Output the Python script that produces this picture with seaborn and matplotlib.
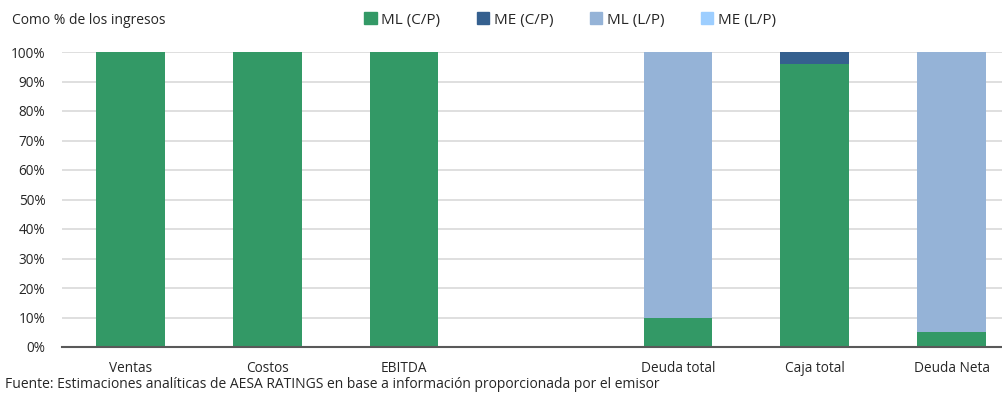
import matplotlib
matplotlib.use("Agg")
import matplotlib.pyplot as plt
from matplotlib.patches import Patch
from matplotlib.ticker import PercentFormatter
import numpy as np
import pandas as pd
import seaborn as sns

# categories (the blank one is the gap between P&L items and debt items)
categories = ["Ventas", "Costos", "EBITDA", " ", "Deuda total", "Caja total", "Deuda Neta"]
series_names = ["ML (C/P)", "ME (C/P)", "ML (L/P)", "ME (L/P)"]

ml_cp = [100, 100, 100, 0, 10, 96, 5.2]
me_cp = [0, 0, 0, 0, 0, 4, 0]
ml_lp = [0, 0, 0, 0, 90, 0, 94.8]
me_lp = [0, 0, 0, 0, 0, 0, 0]

colors = ["#339966", "#35608F", "#95B3D7", "#9DCEFF"]

sns.set_style("white")
plt.rcParams["font.family"] = ["Open Sans", "DejaVu Sans"]

fig = plt.figure(figsize=(10.03, 3.93), dpi=100)
# axes runs past the right edge, the original image is cropped there
ax = fig.add_axes([62 / 1003, 1 - 347 / 393, (1020 - 62) / 1003, (347 - 52) / 393])

df = pd.DataFrame({"cat": categories, "ml_cp": ml_cp, "me_cp": me_cp,
                   "ml_lp": ml_lp, "me_lp": me_lp})
cum = np.cumsum(np.array([ml_cp, me_cp, ml_lp, me_lp]), axis=0)

# draw cumulative totals from the top down so each segment shows
for i in range(3, -1, -1):
    df["v"] = cum[i]
    sns.barplot(data=df, x="cat", y="v", order=categories, color=colors[i],
                saturation=1, width=0.5, ax=ax, linewidth=0)

ax.set_ylim(0, 100)
ax.set_xlim(-0.5, 6.5)
ax.set_yticks(range(0, 101, 10))
ax.yaxis.set_major_formatter(PercentFormatter(decimals=0))
ax.set_xlabel("")
ax.set_ylabel("")
ax.grid(axis="y", color="#D9D9D9", linewidth=1.2)
ax.set_axisbelow(True)
for s in ["top", "right", "left"]:
    ax.spines[s].set_visible(False)
ax.spines["bottom"].set_color("#595959")
ax.spines["bottom"].set_linewidth(1.5)
ax.tick_params(axis="both", length=0, labelsize=9.8, colors="#262626")
ax.tick_params(axis="x", pad=10)
ax.tick_params(axis="y", pad=12)

fig.text(12 / 1003, 1 - 20 / 393, "Como % de los ingresos", fontsize=10,
         color="#262626", va="center")
handles = [Patch(color=c, label=n) for c, n in zip(colors, series_names)]
fig.legend(handles=handles, loc="center", bbox_to_anchor=(570 / 1003, 1 - 20 / 393),
           ncol=4, frameon=False, fontsize=11, handlelength=0.8, handleheight=0.8,
           handletextpad=0.3, columnspacing=2.4, labelcolor="#262626")
fig.text(5 / 1003, 1 - 384 / 393,
         "Fuente: Estimaciones analíticas de AESA RATINGS en base a información proporcionada por el emisor",
         fontsize=10, color="#262626", va="center")

fig.savefig("out.png", dpi=100)
